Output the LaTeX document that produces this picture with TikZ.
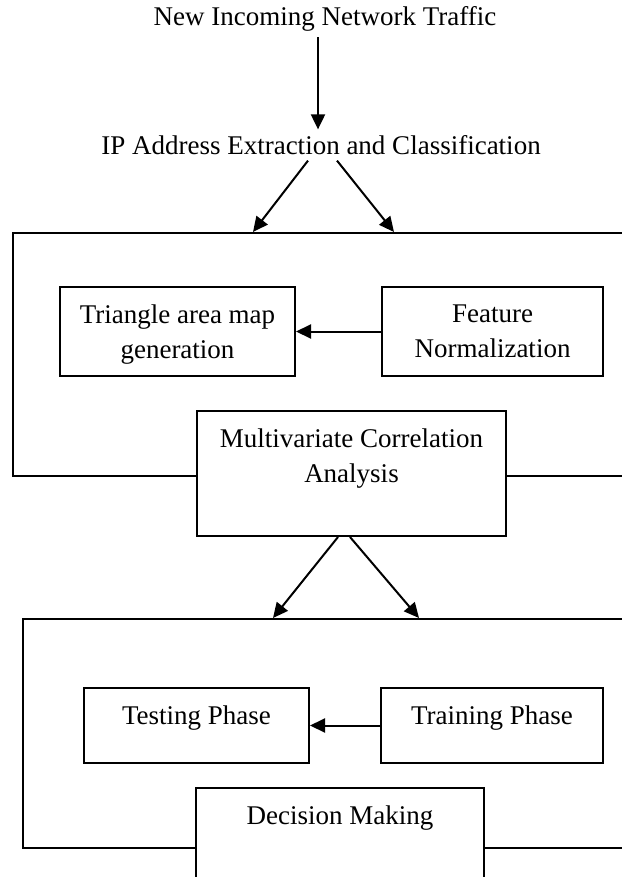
\documentclass[tikz,border=0pt]{standalone}
\usepackage{fontspec}
\setmainfont{Liberation Serif}
\usetikzlibrary{arrows.meta}

\begin{document}
\begin{tikzpicture}[
                    >={Triangle[length=15pt,width=14pt]},
                    x=1pt,
                    y=-1pt,
                    line width=2pt,
                    every node/.style={font=\fontsize{27}{35}\selectfont, inner sep=5pt},
                    frame/.style={draw, anchor=north west, inner sep=0pt},
                    box/.style={draw, fill=white, anchor=north west, inner sep=0pt},
                    txt/.style={anchor=north, align=center, inner sep=0pt, yshift=-18pt}
                ]
                \useasboundingbox (0,0) rectangle (621,877);

                \node (11) at (325,19) {New Incoming Network Traffic};
                \node (21) at (321,145) {IP Address Extraction and Classification};

                \node (30) [frame, minimum width=640pt, minimum height=243pt] at (12,232) {};
                \node (31) [box, minimum width=235pt, minimum height=89pt] at (59,286)
                    [label={[txt]north:{Triangle area map\\generation}}] {};
                \node (32) [box, minimum width=221pt, minimum height=89pt] at (381,286)
                    [label={[txt]north:{Feature\\Normalization}}] {};
                \node (41) [box, minimum width=309pt, minimum height=125pt] at (196,410)
                    [label={[txt]north:{Multivariate Correlation\\Analysis}}] {};

                \node (50) [frame, minimum width=640pt, minimum height=229pt] at (22,618) {};
                \node (51) [box, minimum width=225pt, minimum height=75pt] at (83,687)
                    [label={[txt]north:Testing Phase}] {};
                \node (52) [box, minimum width=222pt, minimum height=75pt] at (380,687)
                    [label={[txt]north:Training Phase}] {};
                \node (61) [box, minimum width=288pt, minimum height=120pt] at (195,787)
                    [label={[txt]north:Decision Making}] {};

                \path[->]
                ([xshift=-7pt]11.south) edge ([xshift=-3pt]21.north)
                ([xshift=-13pt]21.south) edge ([xshift=241pt]30.north west)
                ([xshift=16pt]21.south) edge ([xshift=382pt]30.north west)
                (32) edge (31)
                ([xshift=-13.5pt]41.south) edge ([xshift=251pt]50.north west)
                ([xshift=-1.5pt]41.south) edge ([xshift=397pt]50.north west)
                (52) edge (51)
                ;
            \end{tikzpicture}
\end{document}
